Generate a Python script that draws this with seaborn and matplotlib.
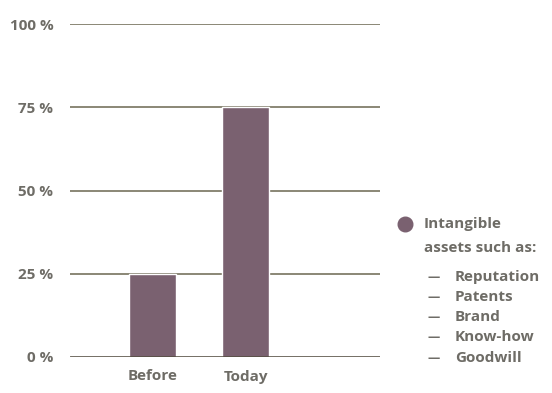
import matplotlib
matplotlib.use("Agg")
import matplotlib.pyplot as plt
from matplotlib.lines import Line2D
import seaborn as sns
import pandas as pd

categories = ["Before", "Today"]
values = [25, 75]
yticks = [0, 25, 50, 75, 100]
ytick_labels = ["0 %", "25 %", "50 %", "75 %", "100 %"]
legend_title = ["Intangible", "assets such as:"]
legend_items = ["Reputation", "Patents", "Brand", "Know-how", "Goodwill"]

bar_color = "#7a6170"
text_color = "#6e6c66"
grid_color = "#77735f"
zero_color = "#4a4436"

sns.set_theme(style="white")
plt.rcParams["font.family"] = ["Open Sans", "DejaVu Sans"]

df = pd.DataFrame({"cat": categories, "val": values})

fig = plt.figure(figsize=(5.52, 3.93), dpi=100)
W, H = 552, 393
ax = fig.add_axes([70 / W, 1 - 357 / H, 310 / W, (357 - 24) / H])

sns.barplot(data=df, x="cat", y="val", color=bar_color, width=0.505,
            saturation=1, ax=ax, zorder=1)

for t in yticks:
    ax.axhline(t, color=zero_color if t == 0 else grid_color,
               lw=1.8 if t == 0 else 1.2, zorder=2 if t == 0 else 0)

fs = 11
ax.set_ylim(0, 100)
ax.set_xlim(-0.887, 2.446)
ax.set_yticks(yticks)
ax.set_yticklabels(ytick_labels)
ax.tick_params(axis="both", length=0, labelsize=fs, labelcolor=text_color)
ax.tick_params(axis="y", pad=12)
ax.tick_params(axis="x", pad=9)
for lab in ax.get_xticklabels() + ax.get_yticklabels():
    lab.set_fontweight("bold")
ax.set_xlabel("")
ax.set_ylabel("")
for s in ax.spines.values():
    s.set_visible(False)

# legend
fig.add_artist(Line2D([405 / W], [1 - 224 / H], marker="o", markersize=10.5,
                      color=bar_color, transform=fig.transFigure, lw=0))
fig.text(424 / W, 1 - 228.5 / H, legend_title[0], color=text_color, fontsize=fs,
         fontweight="bold", va="baseline", ha="left")
fig.text(424 / W, 1 - 252 / H, legend_title[1], color=text_color, fontsize=fs,
         fontweight="bold", va="baseline", ha="left")
for i, item in enumerate(legend_items):
    y = 280.5 + i * 20.3
    fig.text(427 / W, 1 - y / H, "—", color=text_color, fontsize=fs * 0.8,
             fontweight="bold", va="baseline", ha="left")
    fig.text(455 / W, 1 - y / H, item, color=text_color, fontsize=fs,
             fontweight="bold", va="baseline", ha="left")

fig.savefig("out.png", dpi=100, facecolor="white")
